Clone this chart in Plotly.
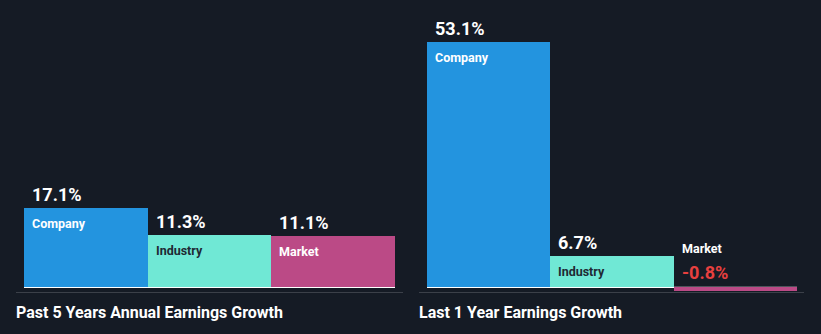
import plotly.graph_objects as go

# Earnings growth comparison (%)
categories = ["Company", "Industry", "Market"]
past5y_values = [17.1, 11.3, 11.1]
last1y_values = [53.1, 6.7, -0.8]
panel_titles = ["Past 5 Years Annual Earnings Growth", "Last 1 Year Earnings Growth"]

bar_colors = ["#2394df", "#70e8d5", "#bb4a86"]
label_colors = ["#ffffff", "#1f2a33", "#ffffff"]
bg = "#151b25"
neg_color = "#e8403f"
W, H = 821, 334

fig = go.Figure()

panels = [
    (past5y_values, "x", "y", [24 / W, 395 / W]),
    (last1y_values, "x2", "y", [427 / W, 797 / W]),
]

annotations = []
shapes = []
for p, (vals, xr, yr, dom) in enumerate(panels):
    fig.add_trace(go.Bar(
        x=[0, 1, 2], y=vals, base=0, width=1.0,
        marker=dict(color=bar_colors, line=dict(width=0)),
        xaxis=xr, yaxis=yr, hoverinfo="skip", showlegend=False,
    ))
    # baseline
    shapes.append(dict(type="line", xref=xr, yref=yr, x0=-0.5, x1=2.5, y0=0, y1=0,
                       line=dict(color="#ffffff", width=1.3), layer="below"))
    for i, (cat, v) in enumerate(zip(categories, vals)):
        if v >= 0:
            annotations.append(dict(
                x=i - 0.5, y=v, xref=xr, yref=yr, xanchor="left", yanchor="middle",
                xshift=6, yshift=14, showarrow=False, text=f"{v:.1f}%",
                font=dict(family="Roboto", size=18, color="#ffffff", weight="bold")))
            annotations.append(dict(
                x=i - 0.5, y=v, xref=xr, yref=yr, xanchor="left", yanchor="middle",
                xshift=6, yshift=-15, showarrow=False, text=cat,
                font=dict(family="Roboto", size=12.5, color=label_colors[i], weight="bold")))
        else:
            annotations.append(dict(
                x=i - 0.5, y=0, xref=xr, yref=yr, xanchor="left", yanchor="middle",
                xshift=6, yshift=15, showarrow=False, text=f"{v:.1f}%",
                font=dict(family="Roboto", size=18, color=neg_color, weight="bold")))
            annotations.append(dict(
                x=i - 0.5, y=0, xref=xr, yref=yr, xanchor="left", yanchor="middle",
                xshift=6, yshift=39, showarrow=False, text=cat,
                font=dict(family="Roboto", size=12.5, color="#ffffff", weight="bold")))

# separators and panel titles
for x0, x1 in [(16, 403), (419, 804)]:
    shapes.append(dict(type="line", xref="paper", yref="paper",
                       x0=x0 / W, x1=x1 / W, y0=1 - 292.5 / H, y1=1 - 292.5 / H,
                       line=dict(color="#3b4049", width=1)))
for t, x0 in zip(panel_titles, [16, 419]):
    annotations.append(dict(x=x0 / W, y=1 - 312 / H, xref="paper", yref="paper",
                            xanchor="left", yanchor="middle", showarrow=False, text=t,
                            xshift=-2,
                            font=dict(family="Roboto", size=16, color="#ffffff", weight="bold")))

# shared vertical scale: baseline at ~287 px, 4.62 px per percent
k = 245.3 / 53.1
ymin = -(H - 287.3) / k
ymax = ymin + H / k

axis_common = dict(range=[-0.5, 2.5], visible=False, fixedrange=True)
fig.update_layout(
    width=W, height=H,
    margin=dict(l=0, r=0, t=0, b=0),
    paper_bgcolor=bg, plot_bgcolor=bg,
    xaxis=dict(domain=panels[0][3], **axis_common),
    xaxis2=dict(domain=panels[1][3], **axis_common),
    yaxis=dict(range=[ymin, ymax], domain=[0, 1], visible=False, fixedrange=True),
    bargap=0,
    annotations=annotations,
    shapes=shapes,
)

fig.write_html("out.html", config={"displayModeBar": False})
